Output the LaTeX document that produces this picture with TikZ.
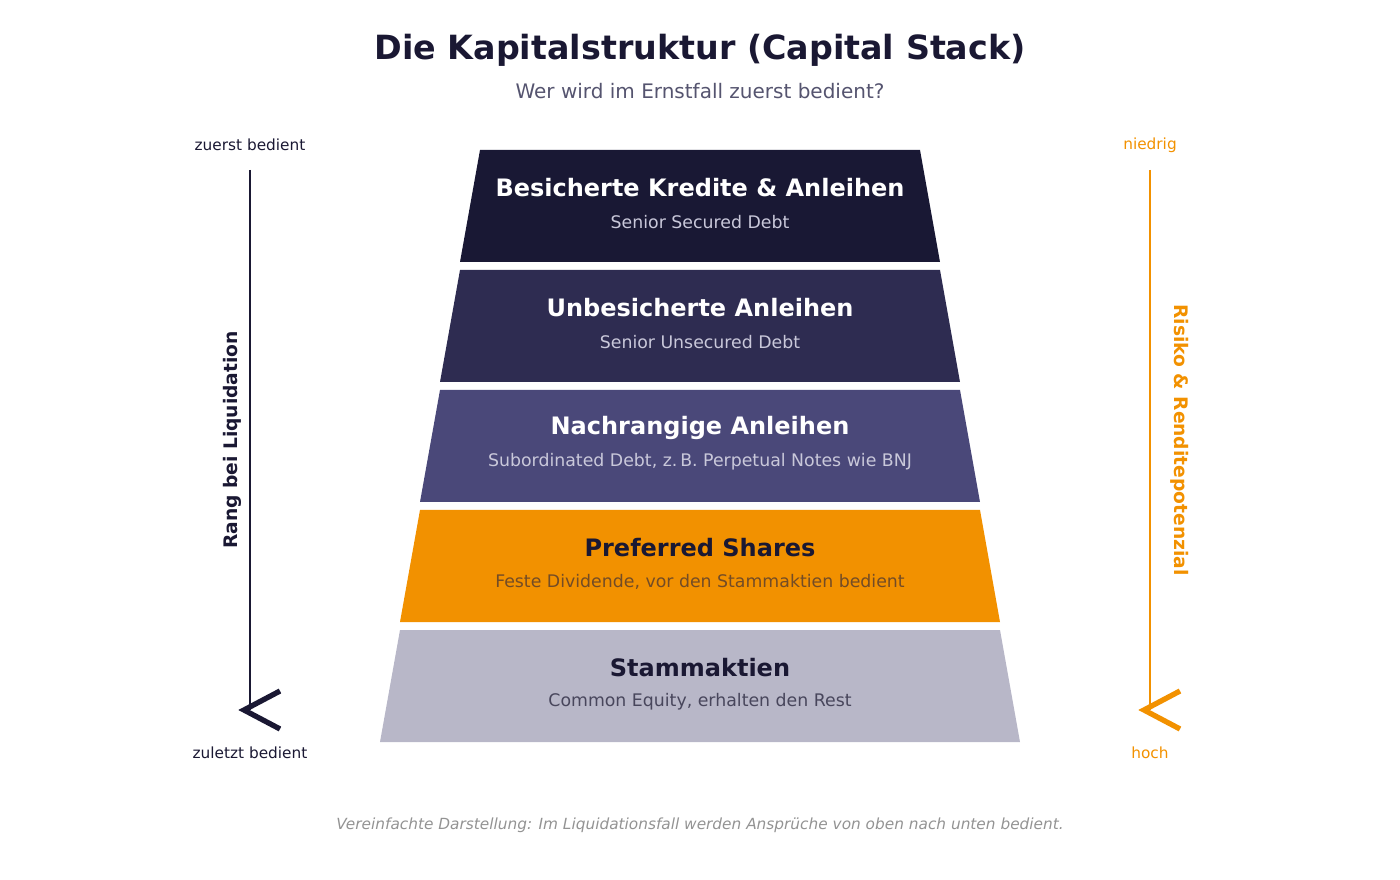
\documentclass[tikz,border=0pt]{standalone}
\usepackage{fontspec}
\setmainfont{DejaVu Sans}
\definecolor{navy}{HTML}{1A1833}
\definecolor{tierA}{HTML}{191834}
\definecolor{tierB}{HTML}{2E2C51}
\definecolor{tierC}{HTML}{4A4879}
\definecolor{tierD}{HTML}{F29100}
\definecolor{tierE}{HTML}{B8B7C8}
\definecolor{subgrey}{HTML}{55546F}
\definecolor{lightsub}{HTML}{C9C8DA}
\begin{document}
\begin{tikzpicture}
        [x=0.75pt,y=-0.75pt,
         every node/.style={inner sep=0,anchor=center},
         head/.style={font=\bfseries\fontsize{18}{20}\selectfont},
         sub/.style={font=\fontsize{13}{15}\selectfont},
         side/.style={font=\fontsize{11.5}{13}\selectfont},
         axis/.style={line width=2.2pt}]

        \useasboundingbox (0,0) rectangle (1400,880);

        \node[font=\bfseries\fontsize{25}{28}\selectfont,text=navy] (title) at (700,50) {Die Kapitalstruktur (Capital Stack)};
        \node[font=\fontsize{15}{17}\selectfont,text=subgrey] (subtitle) at (700,91) {Wer wird im Ernstfall zuerst bedient?};

        % tiers
        \fill[tierA] (480,150) -- (920,150) -- (940,262) -- (460,262) -- cycle;
        \fill[tierB] (460,270) -- (940,270) -- (960,382) -- (440,382) -- cycle;
        \fill[tierC] (440,390) -- (960,390) -- (980,502) -- (420,502) -- cycle;
        \fill[tierD] (420,510) -- (980,510) -- (1000,622) -- (400,622) -- cycle;
        \fill[tierE] (400,630) -- (1000,630) -- (1020,742) -- (380,742) -- cycle;

        \node[head,text=white] (t1) at (700,188) {Besicherte Kredite \& Anleihen};
        \node[sub,text=lightsub] (s1) at (700,222) {Senior Secured Debt};
        \node[head,text=white] (t2) at (700,308) {Unbesicherte Anleihen};
        \node[sub,text=lightsub] (s2) at (700,342) {Senior Unsecured Debt};
        \node[head,text=white] (t3) at (700,428) {Nachrangige Anleihen};
        \node[sub,text=lightsub] (s3) at (700,462) {Subordinated Debt, z.\,B. Perpetual Notes wie BNJ};
        \node[head,text=navy] (t4) at (700,548) {Preferred Shares};
        \node[sub,text=brown!60!black] (s4) at (700,582) {Feste Dividende, vor den Stammaktien bedient};
        \node[head,text=navy] (t5) at (700,668) {Stammaktien};
        \node[sub,text=navy!80] (s5) at (700,702) {Common Equity, erhalten den Rest};

        % left axis
        \node[side,text=navy] (first) at (250,145) {zuerst bedient};
        \node[side,text=navy] (last) at (250,753) {zuletzt bedient};
        \coordinate (ltop) at (250,170);
        \coordinate (lbot) at (250,710);
        \draw[axis,navy] (ltop) -- (lbot);
        \draw[line width=4pt,navy] (280,691) -- (244,710) -- (280,729);
        \node[font=\bfseries\fontsize{14}{16}\selectfont,text=navy,rotate=90] (rank) at (232,440) {Rang bei Liquidation};

        % right axis
        \node[side,text=tierD] (low) at (1150,145) {niedrig};
        \node[side,text=tierD] (high) at (1150,753) {hoch};
        \coordinate (rtop) at (1150,170);
        \coordinate (rbot) at (1150,710);
        \draw[axis,tierD] (rtop) -- (rbot);
        \draw[line width=4pt,tierD] (1180,691) -- (1144,710) -- (1180,729);
        \node[font=\bfseries\fontsize{14}{16}\selectfont,text=tierD,rotate=-90] (risk) at (1180,440) {Risiko \& Renditepotenzial};

        \node[font=\itshape\fontsize{11.5}{13}\selectfont,text=gray!85] (note) at (700,825) {Vereinfachte Darstellung: Im Liquidationsfall werden Ansprüche von oben nach unten bedient.};

      \end{tikzpicture}
\end{document}
